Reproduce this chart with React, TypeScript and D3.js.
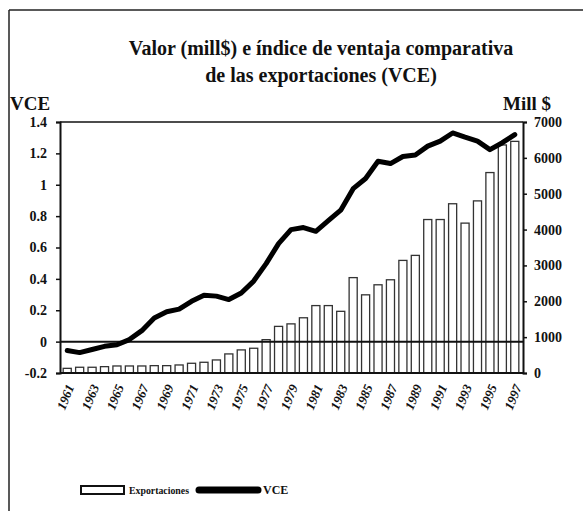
import * as d3 from 'd3';
import { useEffect, useRef } from 'react';

// años (categorías del eje x)
const years = [
  1961, 1962, 1963, 1964, 1965, 1966, 1967, 1968, 1969, 1970,
  1971, 1972, 1973, 1974, 1975, 1976, 1977, 1978, 1979, 1980,
  1981, 1982, 1983, 1984, 1985, 1986, 1987, 1988, 1989, 1990,
  1991, 1992, 1993, 1994, 1995, 1996, 1997,
];

// exportaciones, mill $ (eje derecho)
const exportaciones = [
  130, 160, 160, 177, 196, 196, 196, 205, 205, 224,
  271, 299, 364, 532, 644, 690, 930, 1300, 1370, 1540,
  1880, 1880, 1720, 2660, 2180, 2460, 2600, 3140, 3280, 4280,
  4280, 4720, 4180, 4800, 5590, 6360, 6460,
];

// índice de ventaja comparativa (eje izquierdo)
const vce = [
  -0.057, -0.07, -0.05, -0.03, -0.02, 0.013, 0.07, 0.15, 0.19, 0.207,
  0.257, 0.296, 0.29, 0.268, 0.31, 0.386, 0.497, 0.625, 0.714, 0.727,
  0.703, 0.771, 0.838, 0.975, 1.04, 1.15, 1.135, 1.18, 1.19, 1.246,
  1.278, 1.33, 1.303, 1.278, 1.224, 1.268, 1.32,
];

const leftTicks = [-0.2, 0, 0.2, 0.4, 0.6, 0.8, 1, 1.2, 1.4];
const rightTicks = [0, 1000, 2000, 3000, 4000, 5000, 6000, 7000];
const xLabelYears = years.filter(y => y % 2 === 1);

export default function App() {
  const leftAxisRef = useRef<SVGGElement>(null);
  const rightAxisRef = useRef<SVGGElement>(null);
  const xAxisRef = useRef<SVGGElement>(null);

  const width = 583;
  const height = 511;
  const plot = { left: 60, right: 523, top: 122, bottom: 373 };
  const serif = '"Liberation Serif", "Times New Roman", serif';

  const x = d3.scaleBand<number>()
    .domain(years)
    .range([61, 521])
    .paddingInner(0.35)
    .paddingOuter(0.175);

  const yLeft = d3.scaleLinear().domain([-0.2, 1.4]).range([plot.bottom, plot.top]);
  const yRight = d3.scaleLinear().domain([0, 7000]).range([plot.bottom, plot.top]);

  const line = d3.line<number>()
    .x((_, i) => x(years[i])! + x.bandwidth() / 2)
    .y(d => yLeft(d))
    .curve(d3.curveLinear);

  useEffect(() => {
    // eje izquierdo (VCE)
    const la = d3.select(leftAxisRef.current!);
    la.call(
      d3.axisLeft(yLeft)
        .tickValues(leftTicks)
        .tickSize(4)
        .tickPadding(9)
        .tickFormat(d => {
          const v = +d;
          return Math.abs(v) < 1e-9 ? '0' : String(Math.round(v * 10) / 10);
        })
    );
    la.select('.domain').attr('stroke', '#111').attr('stroke-width', 2);
    la.selectAll('.tick line').attr('stroke', '#111').attr('stroke-width', 1.5);
    la.selectAll('.tick text')
      .attr('font-family', serif)
      .attr('font-weight', 'bold')
      .attr('font-size', 14)
      .attr('fill', '#111');

    // eje derecho (mill $)
    const ra = d3.select(rightAxisRef.current!);
    ra.call(
      d3.axisRight(yRight)
        .tickValues(rightTicks)
        .tickSize(4)
        .tickPadding(7)
        .tickFormat(d => String(d))
    );
    ra.select('.domain').attr('stroke', '#111').attr('stroke-width', 2);
    ra.selectAll('.tick line').attr('stroke', '#111').attr('stroke-width', 1.5);
    ra.selectAll('.tick text')
      .attr('font-family', serif)
      .attr('font-weight', 'bold')
      .attr('font-size', 14)
      .attr('fill', '#111');

    // eje x, años impares rotados
    const xa = d3.select(xAxisRef.current!);
    xa.call(
      d3.axisBottom(x)
        .tickValues(xLabelYears)
        .tickSize(0)
        .tickPadding(0)
        .tickFormat(d => String(d))
    );
    xa.select('.domain').remove();
    xa.selectAll('.tick text')
      .attr('font-family', serif)
      .attr('font-weight', 'bold')
      .attr('font-style', 'italic')
      .attr('font-size', 13)
      .attr('fill', '#111')
      .attr('text-anchor', 'end')
      .attr('dy', '0.35em')
      .attr('transform', 'translate(3,12) rotate(-68)');
  }, []);

  return (
    <svg
      width={width}
      height={height}
      style={{ position: 'absolute', left: 0, top: 0, background: '#fff' }}
    >
      {/* marco del gráfico */}
      <line x1={9} y1={10} x2={width} y2={10} stroke="#222" strokeWidth={1.5} />
      <line x1={9} y1={10} x2={9} y2={height} stroke="#222" strokeWidth={1.5} />

      {/* título */}
      <text
        x={321}
        y={55}
        textAnchor="middle"
        fontFamily={serif}
        fontWeight="bold"
        fontSize={20}
        fill="#111"
      >
        Valor (mill$) e índice de ventaja comparativa
      </text>
      <text
        x={321}
        y={82}
        textAnchor="middle"
        fontFamily={serif}
        fontWeight="bold"
        fontSize={20}
        fill="#111"
      >
        de las exportaciones (VCE)
      </text>

      {/* títulos de ejes */}
      <text x={10} y={110} fontFamily={serif} fontWeight="bold" fontSize={19} fill="#111">
        VCE
      </text>
      <text x={503} y={110} fontFamily={serif} fontWeight="bold" fontSize={19} fill="#111">
        Mill $
      </text>

      {/* borde superior del área */}
      <line x1={plot.left} y1={plot.top} x2={plot.right} y2={plot.top} stroke="#111" strokeWidth={1.5} />

      {/* barras de exportaciones */}
      {exportaciones.map((v, i) => (
        <rect
          key={years[i]}
          x={x(years[i])!}
          y={yRight(v)}
          width={x.bandwidth()}
          height={yRight(0) - yRight(v)}
          fill="#fff"
          stroke="#333"
          strokeWidth={1.3}
        />
      ))}

      {/* línea de VCE = 0 */}
      <line
        x1={plot.left}
        y1={yLeft(0)}
        x2={plot.right}
        y2={yLeft(0)}
        stroke="#111"
        strokeWidth={2}
      />

      {/* eje inferior */}
      <line x1={plot.left} y1={plot.bottom} x2={plot.right} y2={plot.bottom} stroke="#111" strokeWidth={2} />

      {/* línea VCE */}
      <path
        d={line(vce) ?? ''}
        fill="none"
        stroke="#000"
        strokeWidth={5}
        strokeLinejoin="round"
        strokeLinecap="round"
      />

      <g ref={leftAxisRef} transform={`translate(${plot.left},0)`} />
      <g ref={rightAxisRef} transform={`translate(${plot.right},0)`} />
      <g ref={xAxisRef} transform={`translate(0,${plot.bottom})`} />

      {/* leyenda */}
      <rect x={81} y={486} width={43} height={8} fill="#fff" stroke="#111" strokeWidth={2} />
      <text
        x={129}
        y={494}
        fontFamily={serif}
        fontWeight="bold"
        fontSize={11}
        textLength={60}
        lengthAdjust="spacingAndGlyphs"
        fill="#111"
      >
        Exportaciones
      </text>
      <line x1={199} y1={490} x2={258} y2={490} stroke="#000" strokeWidth={7} strokeLinecap="round" />
      <text x={263} y={494} fontFamily={serif} fontWeight="bold" fontSize={12} fill="#111">
        VCE
      </text>
    </svg>
  );
}
